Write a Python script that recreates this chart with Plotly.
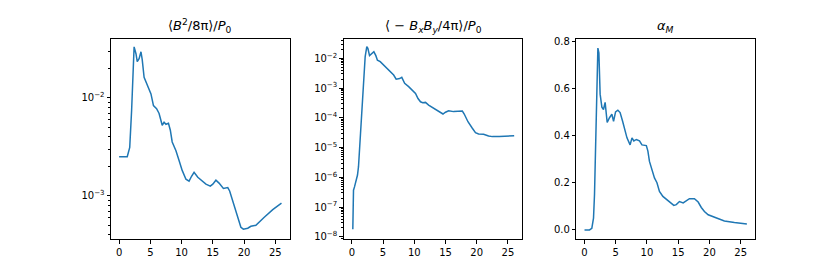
import plotly.graph_objects as go
from plotly.subplots import make_subplots

# panel 1: <B^2/8pi>/P0
t_mag = [0, 0.5, 1.0, 1.3, 1.7, 2.0, 2.4, 2.7, 2.9, 3.2, 3.5, 3.7, 4.0, 4.5, 5.1, 5.5,
         6.0, 6.4, 6.9, 7.2, 7.5, 7.9, 8.2, 8.5, 9.1, 9.6, 10.1, 10.7, 11.2, 11.6, 12.0,
         12.6, 13.4, 13.9, 14.6, 15.0, 15.5, 16.0, 16.7, 17.4, 17.7, 18.4, 19.0, 19.5,
         19.9, 20.6, 21.1, 21.9, 23.2, 24.6, 26.0]
log_mag = [-2.60, -2.60, -2.60, -2.60, -2.505, -2.13, -1.48, -1.55, -1.63, -1.60, -1.53,
           -1.61, -1.79, -1.87, -1.96, -2.08, -2.11, -2.16, -2.28, -2.25, -2.27, -2.26,
           -2.33, -2.45, -2.54, -2.64, -2.74, -2.83, -2.85, -2.80, -2.76, -2.81, -2.85,
           -2.88, -2.90, -2.88, -2.84, -2.87, -2.925, -2.915, -2.95, -3.10, -3.22, -3.32,
           -3.34, -3.33, -3.31, -3.30, -3.22, -3.14, -3.075]
mag = [10 ** v for v in log_mag]

# panel 2: <-BxBy/4pi>/P0
t_max = [0.16, 0.27, 0.43, 0.64, 0.91, 1.07, 1.34, 1.6, 1.87, 2.14, 2.4, 2.57, 2.84, 3.2,
         3.53, 3.85, 4.1, 4.55, 5.1, 5.6, 6.2, 6.7, 7.1, 7.65, 8.0, 8.46, 9.1, 9.6, 10.2,
         10.6, 11.0, 11.35, 11.8, 12.3, 13.1, 13.9, 14.6, 15.0, 15.5, 16.3, 17.0, 17.7,
         18.0, 18.6, 19.3, 19.8, 20.3, 21.1, 21.9, 22.5, 23.6, 24.6, 26.0]
log_max = [-7.74, -6.43, -6.32, -6.15, -5.92, -5.64, -4.75, -3.74, -2.73, -1.94, -1.61,
           -1.66, -1.91, -1.83, -1.78, -1.91, -2.06, -2.11, -2.22, -2.34, -2.45, -2.56,
           -2.70, -2.68, -2.64, -2.84, -2.95, -3.07, -3.18, -3.35, -3.46, -3.49, -3.48,
           -3.57, -3.68, -3.79, -3.87, -3.81, -3.76, -3.79, -3.79, -3.77, -3.87, -4.13,
           -4.35, -4.50, -4.54, -4.55, -4.61, -4.63, -4.63, -4.62, -4.60]
maxw = [10 ** v for v in log_max]

# panel 3: alpha_M
t_alpha = [0, 0.8, 1.17, 1.44, 1.6, 1.87, 2.14, 2.3, 2.5, 2.78, 3.04, 3.3, 3.47, 3.63,
           4.0, 4.38, 4.65, 4.97, 5.34, 5.7, 6.1, 6.5, 6.8, 7.3, 7.6, 7.9, 8.3, 8.8, 9.2,
           9.9, 10.15, 10.4, 10.8, 11.2, 11.6, 12.0, 12.55, 13.35, 13.9, 14.3, 14.7, 15.2,
           15.8, 16.3, 16.8, 17.6, 18.2, 18.7, 19.2, 19.8, 20.6, 21.4, 22.4, 24.0, 26.0]
alpha = [0, 0, 0.007, 0.05, 0.15, 0.43, 0.77, 0.75, 0.575, 0.52, 0.51, 0.54, 0.49, 0.455,
         0.475, 0.49, 0.46, 0.50, 0.507, 0.497, 0.46, 0.42, 0.39, 0.36, 0.39, 0.377, 0.383,
         0.377, 0.36, 0.357, 0.334, 0.29, 0.25, 0.22, 0.20, 0.163, 0.142, 0.124, 0.114,
         0.104, 0.107, 0.12, 0.114, 0.124, 0.132, 0.132, 0.118, 0.095, 0.078, 0.064, 0.055,
         0.047, 0.038, 0.031, 0.025]

titles = ["⟨<i>B</i><sup>2</sup>/8π⟩/<i>P</i><sub>0</sub>",
          "⟨ − <i>B<sub>x</sub>B<sub>y</sub></i>/4π⟩/<i>P</i><sub>0</sub>",
          "<i>α<sub>M</sub></i>"]

x_ticks = [0, 5, 10, 15, 20, 25]
log_ticks2 = [-2, -3, -4, -5, -6, -7, -8]
log_ticks1 = [-2, -3]


def sup_label(p):
    return "10<sup>−%d</sup>" % (-p)


def minor_vals(lo, hi):
    vals = []
    for d in range(lo, hi):
        for m in range(2, 10):
            vals.append(m * 10 ** d)
    return vals


fig = make_subplots(rows=1, cols=3, horizontal_spacing=0.084)
blue = "#1f77b4"
fig.add_trace(go.Scatter(x=t_mag, y=mag, mode="lines", line=dict(color=blue, width=1.5)), 1, 1)
fig.add_trace(go.Scatter(x=t_max, y=maxw, mode="lines", line=dict(color=blue, width=1.5)), 1, 2)
fig.add_trace(go.Scatter(x=t_alpha, y=alpha, mode="lines", line=dict(color=blue, width=1.5)), 1, 3)

axis_style = dict(showline=True, mirror=True, linecolor="black", linewidth=1,
                  ticks="outside", ticklen=3.5, tickwidth=0.8, tickcolor="black",
                  showgrid=False, zeroline=False,
                  tickfont=dict(family="DejaVu Sans", size=10, color="black"))

for c in range(1, 4):
    fig.update_xaxes(range=[-1.3, 27.3], tickvals=x_ticks, row=1, col=c, **axis_style)

fig.update_yaxes(type="log", range=[-3.44, -1.40], tickvals=[10 ** p for p in log_ticks1],
                 ticktext=[sup_label(p) for p in log_ticks1],
                 minor=dict(tickvals=minor_vals(-4, -1), ticks="outside", ticklen=2,
                            tickcolor="black", tickwidth=0.6),
                 row=1, col=1, **axis_style)
fig.update_yaxes(type="log", range=[-8.07, -1.35], tickvals=[10 ** p for p in log_ticks2],
                 ticktext=[sup_label(p) for p in log_ticks2],
                 minor=dict(tickvals=minor_vals(-9, -1), ticks="outside", ticklen=2,
                            tickcolor="black", tickwidth=0.6),
                 row=1, col=2, **axis_style)
fig.update_yaxes(range=[-0.0385, 0.8085], tickvals=[0, 0.2, 0.4, 0.6, 0.8],
                 tickformat=".1f", row=1, col=3, **axis_style)

# panel titles
for i, xref in enumerate(["x domain", "x2 domain", "x3 domain"]):
    fig.add_annotation(text=titles[i], xref=xref, yref="paper", x=0.5, y=1.0,
                       yshift=2, xanchor="center", yanchor="bottom", showarrow=False,
                       font=dict(family="DejaVu Sans", size=13, color="black"))

fig.update_layout(width=830, height=261, showlegend=False,
                  margin=dict(l=103, r=83, t=31, b=30),
                  plot_bgcolor="white", paper_bgcolor="white")

fig.write_html("out.html")
